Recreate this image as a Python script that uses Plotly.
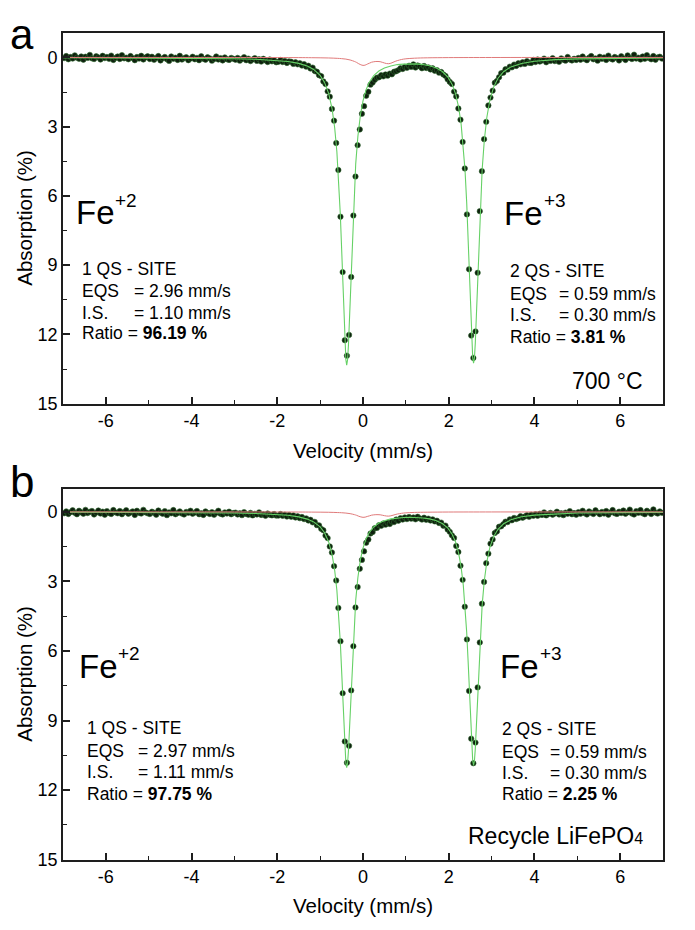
import plotly.graph_objects as go

# ---------------- data ----------------
velocity = [
    -6.975, -6.925, -6.875, -6.825, -6.775, -6.725, -6.675, -6.625, -6.575, -6.525, -6.475, -6.425, -6.375, -6.325, -6.275, -6.225, -6.175, -6.125, -6.075, -6.025,
    -5.975, -5.925, -5.875, -5.825, -5.775, -5.725, -5.675, -5.625, -5.575, -5.525, -5.475, -5.425, -5.375, -5.325, -5.275, -5.225, -5.175, -5.125, -5.075, -5.025,
    -4.975, -4.925, -4.875, -4.825, -4.775, -4.725, -4.675, -4.625, -4.575, -4.525, -4.475, -4.425, -4.375, -4.325, -4.275, -4.225, -4.175, -4.125, -4.075, -4.025,
    -3.975, -3.925, -3.875, -3.825, -3.775, -3.725, -3.675, -3.625, -3.575, -3.525, -3.475, -3.425, -3.375, -3.325, -3.275, -3.225, -3.175, -3.125, -3.075, -3.025,
    -2.975, -2.925, -2.875, -2.825, -2.775, -2.725, -2.675, -2.625, -2.575, -2.525, -2.475, -2.425, -2.375, -2.325, -2.275, -2.225, -2.175, -2.125, -2.075, -2.025,
    -1.975, -1.925, -1.875, -1.825, -1.775, -1.725, -1.675, -1.625, -1.575, -1.525, -1.475, -1.425, -1.375, -1.325, -1.275, -1.225, -1.175, -1.125, -1.075, -1.025,
    -0.975, -0.925, -0.875, -0.825, -0.775, -0.725, -0.675, -0.625, -0.575, -0.525, -0.475, -0.425, -0.375, -0.325, -0.275, -0.225, -0.175, -0.125, -0.075, -0.025,
    0.025, 0.075, 0.125, 0.175, 0.225, 0.275, 0.325, 0.375, 0.425, 0.475, 0.525, 0.575, 0.625, 0.675, 0.725, 0.775, 0.825, 0.875, 0.925, 0.975,
    1.025, 1.075, 1.125, 1.175, 1.225, 1.275, 1.325, 1.375, 1.425, 1.475, 1.525, 1.575, 1.625, 1.675, 1.725, 1.775, 1.825, 1.875, 1.925, 1.975,
    2.025, 2.075, 2.125, 2.175, 2.225, 2.275, 2.325, 2.375, 2.425, 2.475, 2.525, 2.575, 2.625, 2.675, 2.725, 2.775, 2.825, 2.875, 2.925, 2.975,
    3.025, 3.075, 3.125, 3.175, 3.225, 3.275, 3.325, 3.375, 3.425, 3.475, 3.525, 3.575, 3.625, 3.675, 3.725, 3.775, 3.825, 3.875, 3.925, 3.975,
    4.025, 4.075, 4.125, 4.175, 4.225, 4.275, 4.325, 4.375, 4.425, 4.475, 4.525, 4.575, 4.625, 4.675, 4.725, 4.775, 4.825, 4.875, 4.925, 4.975,
    5.025, 5.075, 5.125, 5.175, 5.225, 5.275, 5.325, 5.375, 5.425, 5.475, 5.525, 5.575, 5.625, 5.675, 5.725, 5.775, 5.825, 5.875, 5.925, 5.975,
    6.025, 6.075, 6.125, 6.175, 6.225, 6.275, 6.325, 6.375, 6.425, 6.475, 6.525, 6.575, 6.625, 6.675, 6.725, 6.775, 6.825, 6.875, 6.925, 6.975,
]

absorption_a = [
    0.03, -0.06, 0.08, -0.02, 0.05, -0.09, 0.01, 0.06, -0.04, 0.10, -0.03, 0.02, -0.11, 0.04, 0.07, -0.05, 0.00, 0.09, -0.07, 0.03,
    -0.02, 0.06, -0.08, 0.11, 0.02, -0.04, 0.07, -0.10, 0.04, 0.01, 0.08, -0.06, 0.03, 0.12, -0.02, 0.05, -0.07, 0.09, 0.00, -0.05,
    0.07, -0.03, 0.10, 0.02, -0.06, 0.13, 0.04, -0.02, 0.08, 0.15, -0.04, 0.06, 0.01, 0.11, -0.07, 0.09, 0.03, -0.01, 0.12, 0.05,
    -0.03, 0.08, 0.02, 0.12, -0.05, 0.06, 0.10, -0.01, 0.04, 0.14, 0.07, -0.04, 0.09, 0.03, 0.13, 0.00, 0.08, 0.11, 0.02, 0.06,
    0.10, 0.02, 0.14, 0.07, -0.01, 0.12, 0.05, 0.16, 0.09, 0.03, 0.15, 0.08, 0.18, 0.06, 0.13, 0.20, 0.09, 0.17, 0.12, 0.21,
    0.19, 0.11, 0.20, 0.15, 0.24, 0.17, 0.19, 0.28, 0.21, 0.30, 0.25, 0.35, 0.29, 0.40, 0.36, 0.48, 0.44, 0.59, 0.62, 0.77,
    0.81, 1.04, 1.15, 1.47, 1.70, 2.23, 2.74, 3.71, 4.88, 6.90, 9.30, 12.25, 12.92, 12.02, 9.51, 6.85, 5.16, 3.80, 3.12, 2.44,
    2.11, 1.66, 1.49, 1.18, 1.09, 0.97, 0.88, 0.86, 0.77, 0.82, 0.74, 0.79, 0.70, 0.73, 0.62, 0.60, 0.55, 0.47, 0.50, 0.41,
    0.45, 0.36, 0.41, 0.30, 0.44, 0.35, 0.39, 0.47, 0.37, 0.46, 0.43, 0.52, 0.47, 0.58, 0.55, 0.66, 0.63, 0.74, 0.80, 0.95,
    1.06, 1.15, 1.48, 1.69, 2.21, 2.70, 3.66, 4.81, 6.80, 9.18, 12.05, 13.02, 11.87, 9.33, 6.66, 4.93, 3.54, 2.79, 2.08, 1.74,
    1.44, 1.10, 1.02, 0.86, 0.68, 0.66, 0.51, 0.53, 0.40, 0.43, 0.31, 0.37, 0.25, 0.30, 0.21, 0.28, 0.16, 0.23, 0.24, 0.11,
    0.20, 0.09, 0.18, 0.13, 0.05, 0.21, 0.10, 0.15, 0.03, 0.16, 0.12, 0.19, 0.04, 0.10, 0.14, -0.02, 0.09, 0.13, 0.06, 0.11,
    0.02, 0.10, -0.04, 0.07, 0.12, 0.01, -0.06, 0.08, 0.04, 0.14, -0.03, 0.06, 0.00, 0.11, -0.08, 0.05, 0.09, -0.02, 0.03, 0.13,
    -0.05, 0.04, 0.11, -0.09, 0.02, 0.07, -0.12, 0.05, 0.01, 0.09, -0.04, 0.06, -0.10, 0.03, 0.08, -0.06, 0.10, 0.00, -0.03, 0.05,
]

absorption_b = [
    0.06, -0.02, 0.09, 0.01, -0.07, 0.04, 0.10, -0.05, 0.02, 0.08, -0.09, 0.05, 0.00, -0.04, 0.11, 0.03, -0.06, 0.07, -0.01, 0.12,
    -0.03, 0.05, 0.09, -0.08, 0.02, 0.06, -0.04, 0.10, 0.01, -0.07, 0.08, 0.03, -0.02, 0.13, -0.05, 0.04, 0.07, -0.09, 0.02, 0.06,
    0.09, -0.01, 0.04, 0.12, -0.06, 0.03, 0.08, -0.03, 0.14, 0.02, 0.06, -0.08, 0.10, 0.05, -0.02, 0.07, 0.11, 0.00, 0.04, -0.05,
    0.08, 0.03, -0.04, 0.10, 0.06, 0.13, -0.02, 0.05, 0.09, 0.01, 0.12, 0.04, -0.05, 0.08, 0.11, 0.02, 0.07, -0.01, 0.10, 0.05,
    0.03, 0.11, 0.06, 0.14, 0.01, 0.09, 0.12, 0.04, 0.15, 0.08, 0.11, 0.02, 0.13, 0.10, 0.17, 0.07, 0.12, 0.15, 0.09, 0.16,
    0.16, 0.09, 0.17, 0.12, 0.20, 0.13, 0.21, 0.15, 0.24, 0.19, 0.27, 0.22, 0.31, 0.28, 0.37, 0.34, 0.45, 0.43, 0.57, 0.58,
    0.73, 0.79, 1.02, 1.13, 1.49, 1.75, 2.34, 2.96, 4.14, 5.58, 7.82, 9.90, 10.82, 10.09, 7.70, 5.79, 4.12, 3.24, 2.45, 2.07,
    1.70, 1.33, 1.19, 0.93, 0.87, 0.70, 0.69, 0.57, 0.60, 0.50, 0.55, 0.47, 0.52, 0.42, 0.44, 0.33, 0.38, 0.27, 0.33, 0.24,
    0.31, 0.22, 0.29, 0.24, 0.32, 0.21, 0.28, 0.33, 0.25, 0.34, 0.29, 0.37, 0.32, 0.41, 0.38, 0.48, 0.46, 0.60, 0.59, 0.76,
    0.86, 1.01, 1.12, 1.47, 1.73, 2.32, 2.93, 4.09, 5.50, 7.72, 9.78, 10.84, 9.95, 7.57, 5.63, 3.96, 3.02, 2.21, 1.80, 1.37,
    1.19, 0.91, 0.84, 0.64, 0.62, 0.53, 0.42, 0.44, 0.32, 0.36, 0.26, 0.31, 0.27, 0.18, 0.25, 0.20, 0.14, 0.21, 0.12, 0.17,
    0.10, 0.17, 0.08, 0.13, 0.02, 0.15, 0.09, 0.04, 0.12, 0.07, -0.01, 0.11, 0.06, 0.14, 0.03, 0.08, -0.03, 0.10, 0.05, 0.12,
    0.01, 0.08, -0.05, 0.06, 0.11, -0.02, 0.04, 0.09, -0.07, 0.03, 0.10, 0.00, 0.07, -0.04, 0.12, 0.02, -0.08, 0.06, 0.09, -0.01,
    0.05, -0.06, 0.08, 0.02, -0.10, 0.07, 0.11, -0.03, 0.04, -0.08, 0.06, 0.10, -0.05, 0.02, 0.09, -0.11, 0.03, 0.07, -0.02, 0.04,
]

fit_velocity = [
    -7.0, -6.0, -5.0, -4.0, -3.0, -2.5, -2.0, -1.75, -1.5, -1.3,
    -1.15, -1.0, -0.9, -0.8, -0.72, -0.66, -0.61, -0.57, -0.53, -0.50,
    -0.47, -0.44, -0.42, -0.40, -0.38, -0.36, -0.34, -0.31, -0.28, -0.25,
    -0.21, -0.17, -0.12, -0.06, 0.0, 0.07, 0.15, 0.25, 0.37, 0.5,
    0.65, 0.8, 0.95, 1.1, 1.25, 1.4, 1.55, 1.7, 1.85, 1.98,
    2.08, 2.16, 2.23, 2.29, 2.34, 2.38, 2.42, 2.45, 2.48, 2.51,
    2.54, 2.56, 2.58, 2.60, 2.62, 2.65, 2.68, 2.71, 2.74, 2.78,
    2.83, 2.89, 2.96, 3.05, 3.15, 3.28, 3.45, 3.7, 4.0, 4.5,
    5.0, 6.0, 7.0,
]

fe2_fit_a = [
    0.01, 0.014, 0.019, 0.03, 0.055, 0.08, 0.131, 0.178, 0.259, 0.374,
    0.521, 0.778, 1.072, 1.566, 2.244, 3.056, 4.073, 5.217, 6.769, 8.224,
    9.874, 11.53, 12.47, 13.10, 13.33, 13.10, 12.48, 11.01, 9.32, 7.72,
    5.94, 4.61, 3.43, 2.49, 1.88, 1.41, 1.06, 0.79, 0.59, 0.46,
    0.37, 0.31, 0.29, 0.28, 0.28, 0.31, 0.36, 0.45, 0.61, 0.85,
    1.17, 1.58, 2.14, 2.89, 3.82, 4.87, 6.30, 7.66, 9.25, 10.93,
    12.38, 13.02, 13.24, 13.02, 12.38, 10.93, 9.25, 7.66, 6.30, 4.87,
    3.60, 2.59, 1.85, 1.28, 0.90, 0.62, 0.41, 0.26, 0.165, 0.095,
    0.062, 0.034, 0.022,
]

fe2_fit_b = [
    0.009, 0.011, 0.016, 0.025, 0.045, 0.066, 0.108, 0.147, 0.214, 0.31,
    0.431, 0.644, 0.887, 1.296, 1.856, 2.528, 3.369, 4.315, 5.599, 6.802,
    8.166, 9.542, 10.31, 10.84, 11.03, 10.84, 10.31, 9.10, 7.71, 6.38,
    4.92, 3.81, 2.84, 2.06, 1.56, 1.17, 0.88, 0.65, 0.48, 0.38,
    0.30, 0.26, 0.24, 0.23, 0.24, 0.26, 0.30, 0.37, 0.50, 0.70,
    0.96, 1.30, 1.77, 2.39, 3.16, 4.02, 5.20, 6.33, 7.64, 9.02,
    10.22, 10.74, 10.93, 10.74, 10.22, 9.02, 7.64, 6.32, 5.20, 4.02,
    2.97, 2.14, 1.53, 1.06, 0.75, 0.51, 0.34, 0.21, 0.14, 0.08,
    0.05, 0.03, 0.02,
]

fe3_velocity = [
    -7.0, -5.0, -3.0, -2.0, -1.5, -1.2, -1.0, -0.8, -0.6, -0.5,
    -0.4, -0.3, -0.2, -0.15, -0.1, -0.05, 0.0, 0.05, 0.1, 0.15,
    0.2, 0.25, 0.3, 0.35, 0.4, 0.45, 0.5, 0.55, 0.6, 0.65,
    0.7, 0.75, 0.8, 0.9, 1.0, 1.2, 1.5, 2.0, 3.0, 5.0,
    7.0,
]

fe3_fit_a = [
    0.000, 0.001, 0.002, 0.005, 0.008, 0.012, 0.016, 0.024, 0.039, 0.052,
    0.073, 0.110, 0.174, 0.216, 0.274, 0.318, 0.344, 0.333, 0.289, 0.250,
    0.208, 0.188, 0.176, 0.176, 0.184, 0.211, 0.241, 0.266, 0.272, 0.251,
    0.213, 0.171, 0.139, 0.089, 0.060, 0.033, 0.017, 0.008, 0.003, 0.001,
    0.000,
]

fe3_fit_b = [
    0.000, 0.001, 0.001, 0.003, 0.005, 0.008, 0.011, 0.016, 0.027, 0.035,
    0.050, 0.075, 0.118, 0.147, 0.186, 0.216, 0.234, 0.226, 0.196, 0.170,
    0.141, 0.127, 0.119, 0.119, 0.124, 0.142, 0.162, 0.178, 0.182, 0.168,
    0.143, 0.115, 0.093, 0.060, 0.040, 0.022, 0.012, 0.005, 0.002, 0.001,
    0.000,
]

x_tick_values = [-6, -4, -2, 0, 2, 4, 6]
x_tick_labels = ["-6", "-4", "-2", "0", "2", "4", "6"]
y_tick_values = [0, 3, 6, 9, 12, 15]
y_tick_labels = ["0", "3", "6", "9", "12", "15"]

site1_a = ["1 QS - SITE", "EQS", "= 2.96 mm/s", "I.S.", "= 1.10 mm/s", "Ratio = <b>96.19 %</b>"]
site2_a = ["2 QS - SITE", "EQS", "= 0.59 mm/s", "I.S.", "= 0.30 mm/s", "Ratio = <b>3.81 %</b>"]
site1_b = ["1 QS - SITE", "EQS", "= 2.97 mm/s", "I.S.", "= 1.11 mm/s", "Ratio = <b>97.75 %</b>"]
site2_b = ["2 QS - SITE", "EQS", "= 0.59 mm/s", "I.S.", "= 0.30 mm/s", "Ratio = <b>2.25 %</b>"]

# ---------------- figure ----------------
WIN_W, WIN_H = 695, 930
OFF = 8                       # default page margin around the plot div
W, H = WIN_W - OFF, WIN_H - OFF
FONT = "Liberation Sans, Arial, sans-serif"
AX = "#1e1e1e"
DOT = "#0e1f0e"
GREEN = "#66d166"
RED = "#e07a7a"


def px(x):
    """screen x (window pixels) -> paper fraction"""
    return (x - OFF) / W


def py(y):
    """screen y (window pixels) -> paper fraction"""
    return 1 - (y - OFF) / H


fig = go.Figure()

panels = [
    dict(ax="", data=absorption_a, fe2=fe2_fit_a, fe3=fe3_fit_a),
    dict(ax="2", data=absorption_b, fe2=fe2_fit_b, fe3=fe3_fit_b),
]
for p in panels:
    xa, ya = "x" + p["ax"], "y" + p["ax"]
    fig.add_trace(go.Scatter(x=velocity, y=p["data"], mode="markers", xaxis=xa, yaxis=ya,
                             marker=dict(size=5.4, color=DOT, line=dict(width=0.6, color="#2f6a2f")),
                             hoverinfo="skip"))
    fig.add_trace(go.Scatter(x=fit_velocity, y=p["fe2"], mode="lines", xaxis=xa, yaxis=ya,
                             line=dict(color=GREEN, width=1.1), hoverinfo="skip"))
    fig.add_trace(go.Scatter(x=fe3_velocity, y=p["fe3"], mode="lines", xaxis=xa, yaxis=ya,
                             line=dict(color=RED, width=1.0, shape="spline"), hoverinfo="skip"))

xdom = [px(63), px(663)]


def xaxis_cfg(anchor):
    return dict(domain=xdom, anchor=anchor, range=[-7, 7], tickvals=x_tick_values, ticktext=x_tick_labels,
                ticks="inside", ticklen=7, tickwidth=1.5, tickcolor=AX,
                minor=dict(ticks="inside", ticklen=4, tickwidth=1.3, tickcolor=AX, dtick=1, tick0=0),
                showline=True, linewidth=1.6, linecolor=AX, mirror=True,
                showgrid=False, zeroline=False, tickfont=dict(size=18, family=FONT, color="black"),
                fixedrange=True)


def yaxis_cfg(anchor, top, bottom, rng):
    return dict(domain=[py(bottom), py(top)], anchor=anchor, range=rng, tickvals=y_tick_values,
                ticktext=y_tick_labels,
                ticks="inside", ticklen=7, tickwidth=1.5, tickcolor=AX,
                minor=dict(ticks="inside", ticklen=4, tickwidth=1.3, tickcolor=AX, dtick=1.5, tick0=0),
                showline=True, linewidth=1.6, linecolor=AX, mirror=True,
                showgrid=False, zeroline=False, tickfont=dict(size=18, family=FONT, color="black"),
                fixedrange=True)


annotations = []
BEARING = 3   # annotation pad + glyph side bearing for left-anchored text


def txt(text, x, y, size, anchor="left", angle=0):
    xx = x - BEARING if anchor == "left" else x
    annotations.append(dict(text=text, x=px(xx), y=py(y), xref="paper", yref="paper",
                            xanchor=anchor, yanchor="middle", showarrow=False, textangle=angle,
                            font=dict(size=size, family=FONT, color="black")))


def site_block(lines, x, ys, eq_dx, size=17.5):
    txt(lines[0], x, ys[0], size)
    txt(lines[1], x, ys[1], size)
    txt(lines[2], x + eq_dx, ys[1], size)
    txt(lines[3], x, ys[2], size)
    txt(lines[4], x + eq_dx, ys[2], size)
    txt(lines[5], x, ys[3], size)


# panel a
txt("a", 11, 35, 42)
txt("Fe", 77, 215, 33)
txt("+2", 116, 203, 19)
txt("Fe", 505, 216, 33)
txt("+3", 545, 203, 19)
site_block(site1_a, 83, [272, 294, 316, 337], 52)
site_block(site2_a, 511, [274, 297, 318, 341], 49)
txt("700 °C", 573, 385, 23)
txt("Velocity (mm/s)", 363, 455, 20.5, anchor="center")
txt("Absorption (%)", 25, 220, 20.5, anchor="center", angle=-90)

# panel b
txt("b", 11, 487, 44)
txt("Fe", 80, 674, 33)
txt("+2", 119, 661, 19)
txt("Fe", 501, 674, 33)
txt("+3", 541, 661, 19)
site_block(site1_b, 88, [736, 759, 780, 803], 51)
site_block(site2_b, 503, [737, 760, 781, 803], 48)
txt("Recycle LiFePO<span style='font-size:16px'>4</span>", 469, 845, 23)
txt("Velocity (mm/s)", 363, 915, 20.5, anchor="center")
txt("Absorption (%)", 25, 681, 20.5, anchor="center", angle=-90)

fig.update_layout(
    width=W, height=H, margin=dict(l=0, r=0, t=0, b=0),
    paper_bgcolor="white", plot_bgcolor="white", showlegend=False,
    font=dict(family=FONT, color="black"),
    xaxis=xaxis_cfg("y"), yaxis=yaxis_cfg("x", 33, 408, [15, -1.07]),
    xaxis2=xaxis_cfg("y2"), yaxis2=yaxis_cfg("x2", 494, 869, [15, -1.0]),
    annotations=annotations,
)

fig.write_html("out.html")
